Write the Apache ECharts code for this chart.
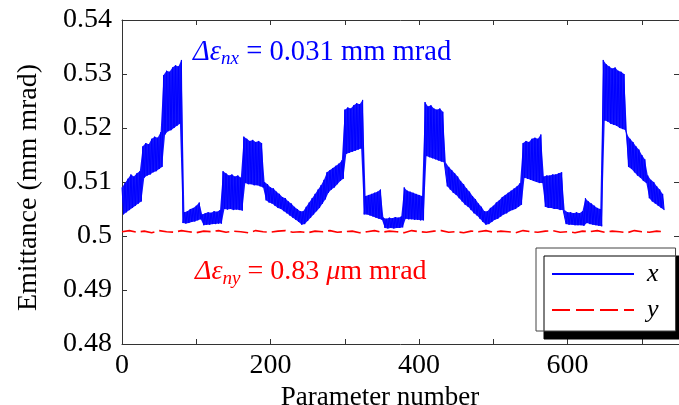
<!DOCTYPE html>
<html><head><meta charset="utf-8">
<script src="https://cdn.jsdelivr.net/npm/echarts@6/dist/echarts.min.js"></script>
<style>html,body{margin:0;padding:0;background:#fff}#c{width:679px;height:405px}</style>
</head><body><div id="c"></div>
<script>
// Upper and lower edges of the oscillating x-emittance trace (sampled every 4 parameters, offset by 2)
const xUpper = [
0.5090,0.5098,0.5106,0.5114,0.5110,0.5116,0.5120,
0.5166,0.5172,0.5170,0.5180,0.5184,0.5182,0.5192,
0.5298,0.5306,0.5304,0.5312,0.5316,0.5314,0.5326,
0.5044,0.5046,0.5050,0.5052,0.5056,0.5062,
0.5040,0.5042,0.5044,0.5043,0.5046,0.5045,0.5048,
0.5120,0.5116,0.5112,0.5114,0.5110,0.5112,0.5108,
0.5184,0.5180,0.5176,0.5178,0.5174,0.5176,0.5172,
0.5100,0.5096,0.5090,0.5088,0.5082,0.5078,0.5072,0.5070,0.5064,0.5060,0.5054,0.5050,0.5046,
0.5046,0.5054,0.5062,0.5070,0.5078,0.5086,0.5094,0.5104,0.5118,0.5122,0.5126,0.5130,0.5134,0.5140,
0.5234,0.5238,0.5236,0.5242,0.5246,0.5244,0.5252,
0.5074,0.5076,0.5078,0.5080,0.5082,0.5086,
0.5034,0.5032,0.5034,0.5033,0.5035,0.5034,0.5036,
0.5090,0.5084,0.5082,0.5080,0.5078,0.5076,0.5074,
0.5248,0.5240,0.5242,0.5236,0.5234,0.5236,0.5230,
0.5136,0.5128,0.5122,0.5116,0.5110,0.5102,0.5096,0.5088,0.5082,0.5074,0.5068,0.5060,0.5054,0.5046,
0.5046,0.5052,0.5056,0.5062,0.5066,0.5072,0.5076,0.5080,0.5084,0.5088,0.5092,0.5098,
0.5172,0.5176,0.5174,0.5180,0.5182,0.5180,0.5188,
0.5110,0.5112,0.5112,0.5114,0.5114,0.5116,0.5118,
0.5048,0.5044,0.5044,0.5042,0.5044,0.5042,0.5046,
0.5070,0.5064,0.5060,0.5056,0.5052,0.5050,
0.5326,0.5318,0.5314,0.5310,0.5312,0.5306,0.5304,0.5300,
0.5188,0.5180,0.5174,0.5166,0.5160,0.5150,0.5142,
0.5112,0.5104,0.5100,0.5092,0.5086,0.5078
];
const xLower = [
0.5040,0.5044,0.5048,0.5052,0.5056,0.5060,0.5064,
0.5108,0.5112,0.5114,0.5118,0.5120,0.5124,0.5128,
0.5188,0.5194,0.5196,0.5200,0.5204,0.5208,0.5024,
0.5023,0.5024,0.5026,0.5027,0.5029,0.5031,
0.5020,0.5021,0.5021,0.5022,0.5022,0.5023,0.5023,
0.5050,0.5049,0.5050,0.5048,0.5049,0.5048,0.5047,
0.5098,0.5096,0.5096,0.5094,0.5094,0.5092,0.5090,
0.5066,0.5062,0.5060,0.5056,0.5052,0.5050,0.5046,0.5042,0.5038,0.5034,0.5030,0.5026,0.5021,
0.5022,0.5028,0.5034,0.5040,0.5046,0.5052,0.5060,0.5068,0.5080,0.5086,0.5090,0.5096,0.5102,0.5106,
0.5152,0.5154,0.5156,0.5158,0.5160,0.5162,0.5040,
0.5040,0.5038,0.5036,0.5034,0.5032,0.5030,
0.5015,0.5014,0.5015,0.5014,0.5015,0.5015,0.5016,
0.5032,0.5031,0.5031,0.5030,0.5030,0.5029,0.5029,
0.5148,0.5146,0.5144,0.5142,0.5140,0.5138,0.5136,
0.5092,0.5086,0.5080,0.5076,0.5070,0.5064,0.5058,0.5054,0.5048,0.5042,0.5038,0.5032,0.5026,0.5021,
0.5022,0.5026,0.5030,0.5032,0.5036,0.5040,0.5042,0.5046,0.5048,0.5050,0.5054,0.5058,
0.5108,0.5106,0.5104,0.5102,0.5100,0.5098,0.5098,
0.5054,0.5052,0.5052,0.5050,0.5050,0.5048,0.5048,
0.5022,0.5021,0.5021,0.5020,0.5020,0.5020,0.5019,
0.5024,0.5022,0.5021,0.5020,0.5019,0.5018,
0.5214,0.5212,0.5208,0.5206,0.5204,0.5200,0.5198,0.5196,
0.5128,0.5124,0.5118,0.5112,0.5108,0.5102,0.5098,
0.5070,0.5064,0.5060,0.5056,0.5052,0.5048
];
// y emittance, every 10 parameters
const yEmit = [
0.5008,0.5010,0.5007,0.5009,0.5006,0.5010,0.5008,0.5007,0.5010,0.5008,
0.5006,0.5009,0.5008,0.5010,0.5007,0.5009,0.5008,0.5006,0.5010,0.5008,
0.5007,0.5009,0.5010,0.5007,0.5008,0.5006,0.5009,0.5008,0.5010,0.5007,
0.5008,0.5009,0.5006,0.5008,0.5010,0.5007,0.5009,0.5008,0.5006,0.5010,
0.5008,0.5007,0.5009,0.5010,0.5007,0.5008,0.5006,0.5009,0.5008,0.5010,
0.5007,0.5009,0.5008,0.5006,0.5010,0.5008,0.5007,0.5009,0.5010,0.5007,
0.5008,0.5006,0.5009,0.5008,0.5010,0.5007,0.5009,0.5008,0.5006,0.5010,
0.5008,0.5007,0.5009,0.5008
];
const xTickLabels = ['0','200','400','600'];
const yTickLabels = ['0.48','0.49','0.5','0.51','0.52','0.53','0.54'];

const xData = [];
xUpper.forEach((v, k) => {
  xData.push([4 * k, v]);
  xData.push([4 * k + 2, xLower[k]]);
});
const yData = yEmit.map((v, i) => [10 * i, v]);

const FONT = 'Liberation Serif';
const axisLineStyle = { color: '#333', width: 1 };
const chart = echarts.init(document.getElementById('c'), null, { renderer: 'canvas' });

function xAx(pos, labels) {
  return {
    type: 'value', min: 0, max: 750, interval: 100, position: pos,
    axisLine: { show: true, onZero: false, lineStyle: axisLineStyle },
    axisTick: { show: true, inside: true, length: 5, lineStyle: axisLineStyle },
    axisLabel: labels ? {
      show: true, margin: 8, fontFamily: FONT, fontSize: 28, color: '#000',
      formatter: v => xTickLabels.includes(String(v)) ? String(v) : ''
    } : { show: false },
    splitLine: { show: false }
  };
}
function yAx(pos, labels) {
  return {
    type: 'value', min: 0.48, max: 0.54, interval: 0.01, position: pos,
    axisLine: { show: true, onZero: false, lineStyle: axisLineStyle },
    axisTick: { show: true, inside: true, length: 5, lineStyle: axisLineStyle },
    axisLabel: labels ? {
      show: true, margin: 10, fontFamily: FONT, fontSize: 28, color: '#000',
      formatter: v => yTickLabels[Math.round((v - 0.48) / 0.01)] || ''
    } : { show: false },
    splitLine: { show: false }
  };
}

const xb = xAx('bottom', true);
xb.name = 'Parameter number';
xb.nameLocation = 'middle';
xb.nameGap = 32;
xb.nameTextStyle = { fontFamily: FONT, fontSize: 27, color: '#000', padding: [0, 41, 0, 0] };
const yl = yAx('left', true);
yl.name = 'Emittance (mm mrad)';
yl.nameLocation = 'middle';
yl.nameGap = 79;
yl.nameTextStyle = { fontFamily: FONT, fontSize: 28, color: '#000', padding: [0, 11, 0, 0] };

function richFor(color, size) {
  return {
    a: { fontFamily: FONT, fontStyle: 'italic', fontSize: size, lineHeight: 32, fill: color, verticalAlign: 'middle' },
    s: { fontFamily: FONT, fontStyle: 'italic', fontSize: 19, lineHeight: 20, fill: color, verticalAlign: 'bottom' },
    b: { fontFamily: FONT, fontSize: size, lineHeight: 32, fill: color, verticalAlign: 'middle' }
  };
}

// envelope of the fast oscillation, drawn through the cartesian scales
function renderBand(params, api) {
  const pts = [];
  xUpper.forEach((v, k) => pts.push(api.coord([4 * k, v])));
  for (let k = xLower.length - 1; k >= 0; k--) pts.push(api.coord([4 * k + 2, xLower[k]]));
  return { type: 'polygon', shape: { points: pts }, style: { fill: '#1414ff', stroke: null } };
}

chart.setOption({
  animation: false,
  backgroundColor: '#fff',
  grid: { left: 122, top: 20, right: 0, bottom: 61, containLabel: false, outerBoundsMode: 'none' },
  xAxis: [xb, xAx('top', false)],
  yAxis: [yl, yAx('right', false)],
  legend: {
    orient: 'vertical', left: 536, top: 248,
    padding: [13, 17, 8, 15],
    itemWidth: 82, itemHeight: 14, itemGap: 10,
    backgroundColor: '#fff', borderColor: '#444', borderWidth: 1,
    shadowColor: '#000', shadowBlur: 0, shadowOffsetX: 8, shadowOffsetY: 8,
    selectedMode: false,
    itemStyle: { opacity: 0 },
    lineStyle: { width: 2 },
    textStyle: { fontFamily: FONT, fontStyle: 'italic', fontSize: 26, color: '#000', padding: [0, 0, 0, 8] },
    data: [{ name: 'x' }, { name: 'y', lineStyle: { width: 2, type: [18, 6] } }]
  },
  series: [
    {
      name: 'xBand', type: 'custom', coordinateSystem: 'cartesian2d', xAxisIndex: 0, yAxisIndex: 0,
      data: [[0, 0.5]], renderItem: renderBand, silent: true, z: 1
    },
    {
      name: 'x', type: 'line', data: xData, symbol: 'none', showSymbol: false,
      lineStyle: { color: '#0000ff', width: 1 }, itemStyle: { color: '#0000ff' },
      xAxisIndex: 0, yAxisIndex: 0, z: 2
    },
    {
      name: 'y', type: 'line', data: yData, symbol: 'none', showSymbol: false,
      lineStyle: { color: '#ff0000', width: 1.6, type: [14, 5] }, itemStyle: { color: '#ff0000' },
      xAxisIndex: 0, yAxisIndex: 0, z: 3
    }
  ],
  graphic: [
    {
      type: 'text', x: 193, y: 52, z: 10,
      style: { text: '{a|\u0394\u03b5}{s|nx}{b| = 0.031 mm mrad}', rich: richFor('#0000ff', 28.6), align: 'left', verticalAlign: 'middle' }
    },
    {
      type: 'text', x: 195, y: 272, z: 10,
      style: { text: '{a|\u0394\u03b5}{s|ny}{b| = 0.83 }{a|\u03bc}{b|m mrad}', rich: richFor('#ff0000', 28), align: 'left', verticalAlign: 'middle' }
    }
  ]
});
</script></body></html>
